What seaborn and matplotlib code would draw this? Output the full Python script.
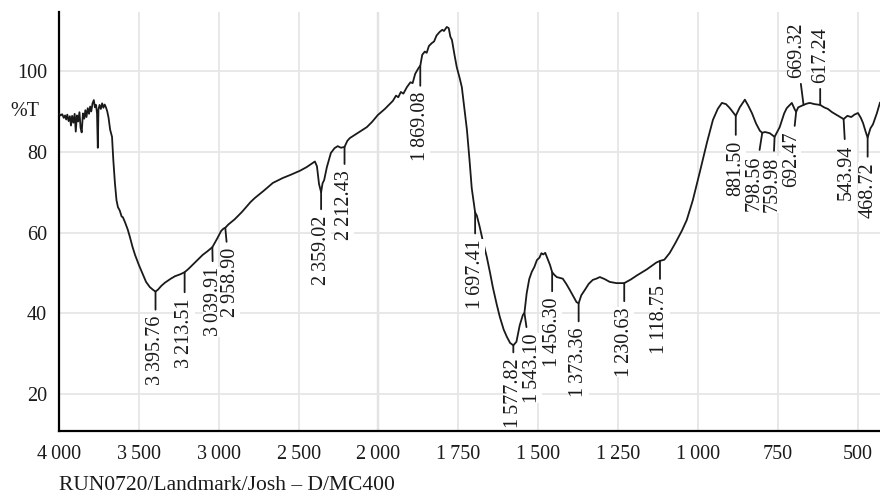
import matplotlib
matplotlib.use("Agg")
import matplotlib.pyplot as plt
import matplotlib.transforms as mtransforms
from matplotlib.ticker import FixedLocator, FuncFormatter
import numpy as np
import seaborn as sns

# IR spectrum (wavenumber cm-1, %T)
wavenumber = [4000, 3990, 3980, 3970, 3962, 3955, 3948, 3940, 3932, 3925, 3918, 3910, 3902, 3895,
              3888, 3880, 3872, 3865, 3858, 3850, 3842, 3835, 3828, 3820, 3812, 3805, 3798, 3790,
              3782, 3775, 3768, 3762, 3757, 3753, 3746, 3738, 3730, 3722, 3714, 3706, 3698, 3690,
              3680, 3668, 3660, 3650, 3640, 3631, 3620, 3608, 3600, 3587, 3570, 3556, 3540, 3524,
              3500, 3481, 3455, 3431, 3410, 3395.76, 3380, 3360, 3337, 3300, 3274, 3240, 3213.51,
              3190, 3149, 3100, 3070, 3039.91, 3010, 2985, 2970, 2958.90, 2940, 2900, 2855, 2800,
              2773, 2720, 2661, 2600, 2550, 2492, 2450, 2398, 2385, 2372, 2359.02, 2350, 2340, 2323,
              2298, 2275, 2255, 2235, 2212.43, 2195, 2179, 2140, 2100, 2073, 2040, 2004, 1980, 1955,
              1945, 1938, 1930, 1922, 1911, 1900, 1893, 1885, 1874, 1869.08, 1863, 1855, 1849, 1842,
              1833, 1826, 1818, 1808, 1800, 1795, 1786, 1780, 1775, 1770, 1762, 1755, 1745, 1739,
              1730, 1723, 1715, 1708, 1702, 1697.41, 1692, 1683, 1672, 1661, 1650, 1642, 1630, 1620,
              1608, 1598, 1588, 1577.82, 1568, 1558, 1548, 1543.10, 1536, 1528, 1520, 1512, 1504,
              1496, 1490, 1484, 1478, 1470, 1463, 1456.30, 1450, 1442, 1433, 1423, 1412, 1401, 1390,
              1380, 1373.36, 1365, 1354, 1342, 1329, 1318, 1307, 1292, 1276, 1255, 1230.63, 1210,
              1191, 1160, 1130, 1118.75, 1105, 1088, 1070, 1050, 1035, 1016, 994, 972, 953, 938, 925,
              912, 900, 881.50, 869, 853, 843, 831, 818, 806, 798.56, 790, 775, 759.98, 744, 730,
              722, 706, 697, 692.47, 686, 669.32, 660, 650, 635, 617.24, 605, 593, 580, 565, 550,
              543.94, 532, 520, 510, 499, 490, 483, 475, 468.72, 460, 452, 440, 430]
transmittance = [89.5, 89.0, 89.3, 88.4, 89.0, 88.0, 89.2, 87.6, 88.8, 86.5, 88.9, 87.2, 89.4, 85.0,
                 89.0, 87.5, 89.8, 86.0, 84.8, 89.5, 88.2, 90.3, 88.6, 90.8, 89.4, 91.2, 90.0, 92.0,
                 92.8, 91.0, 91.6, 89.5, 81.0, 90.5, 91.6, 90.6, 92.0, 90.9, 91.7, 91.0, 90.0, 88.5,
                 85.5, 83.7, 78.0, 72.3, 68.0, 66.3, 65.5, 64.0, 63.8, 62.6, 60.8, 58.9, 56.5, 54.5,
                 52.0, 50.2, 47.8, 46.5, 45.8, 45.4, 45.9, 46.8, 47.6, 48.6, 49.2, 49.7, 50.2,
                 51.0, 52.6, 54.5, 55.4, 56.4, 58.5, 60.4, 61.0, 61.2, 62.0, 63.3, 65.1, 67.6,
                 68.6, 70.3, 72.3, 73.5, 74.3, 75.3, 76.2, 77.6, 76.4, 72.0, 70.0, 72.2, 73.0, 76.2,
                 79.7, 80.9, 81.4, 81.0, 81.2, 82.7, 83.4, 84.4, 85.4, 86.1, 87.4, 89.1, 90.6, 92.6,
                 93.9, 93.5, 94.8, 94.4, 96.0, 97.2, 97.0, 99.3, 100.8, 101.3, 104.0, 104.8, 104.5, 106.2,
                 106.9, 107.3, 108.8, 109.7, 110.2, 109.9, 110.9, 110.6, 108.5, 107.7, 104.0, 101.0, 98.0, 96.0,
                 90.0, 85.4, 78.0, 71.0, 67.5, 65.0, 64.2, 61.4, 57.5, 54.0, 49.8, 46.5, 42.3, 39.1,
                 36.0, 34.2, 32.7, 32.1, 33.0, 37.0, 39.6, 40.1, 45.0, 48.5, 50.3, 51.5, 53.2,
                 53.8, 54.9, 54.6, 55.0, 53.4, 52.0, 50.2, 49.6, 49.0, 48.8, 48.6, 47.3, 45.8, 44.2,
                 42.8, 42.5, 44.5, 45.8, 47.3, 48.3, 48.6, 49.0, 48.5, 47.8, 47.5, 47.5, 48.4,
                 49.4, 50.9, 52.6, 53.0, 53.3, 55.0, 57.5, 60.5, 63.1, 68.0, 75.0, 82.2, 87.9, 90.6, 92.1,
                 91.8, 90.8, 88.9, 91.0, 92.9, 91.5, 89.6, 87.0, 85.2, 84.7, 84.9, 84.6, 83.7, 86.1, 89.5,
                 90.8, 92.1, 90.5, 89.9, 91.0, 91.6, 91.9, 92.1, 91.8, 91.6, 91.0, 90.6, 89.8, 89.1, 88.4,
                 88.1, 88.9, 88.6, 89.2, 89.6, 88.4, 87.1, 85.0, 83.5, 85.8, 86.8, 89.5, 92.2]

# labelled peaks
peaks = [3395.76, 3213.51, 3039.91, 2958.90, 2359.02, 2212.43, 1869.08, 1697.41, 1577.82,
         1543.10, 1456.30, 1373.36, 1230.63, 1118.75, 881.50, 798.56, 759.98, 692.47,
         669.32, 617.24, 543.94, 468.72]
# label offsets in pixels from the peak (dx, dy), dy > 0 means label below
label_off = [(0, 24), (0, 26), (1, 20), (5, 20), (0, 23), (0, 23), (0, 26), (0, 27), (0, 13),
             (8, 20), (0, 25), (0, 24), (0, 24), (0, 24), (0, 25), (-8, 23), (-2, 20), (-5, 20),
             (-7, -27), (0, -22), (3, 26), (0, 25)]

major_x = [4000, 3500, 3000, 2500, 2000, 1750, 1500, 1250, 1000, 750, 500]
major_y = [20, 40, 60, 80, 100]

sns.set_theme(style="white")
plt.rcParams["font.family"] = ["Liberation Serif", "DejaVu Serif"]

def thin(v, dec=0):
    return f"{v:,.{dec}f}".replace(",", "\u2009")

# spectrum is expanded 2x below 2000 cm-1
def fwd(w):
    w = np.asarray(w, dtype=float)
    return np.where(w < 2000, 2 * w - 2000, w)

def inv(u):
    u = np.asarray(u, dtype=float)
    return np.where(u < 2000, (u + 2000) / 2, u)

fig = plt.figure(figsize=(8.8, 4.95), dpi=100)
ax = fig.add_axes([59 / 880, 1 - 431 / 495, 1 - 59 / 880, (431 - 12) / 495])

sns.lineplot(x=wavenumber, y=transmittance, ax=ax, color="#1a1a1a", lw=1.3,
             sort=False, estimator=None, zorder=3)

ax.set_xscale("function", functions=(fwd, inv))
ax.set_xlim(4000, 430)
ax.set_ylim(10.9, 114.6)

ax.xaxis.set_major_locator(FixedLocator(major_x))
ax.xaxis.set_minor_locator(FixedLocator(list(range(3900, 2000, -100)) + list(range(1950, 430, -50))))
ax.xaxis.set_major_formatter(FuncFormatter(lambda v, p: thin(v)))
ax.yaxis.set_major_locator(FixedLocator(major_y))
ax.yaxis.set_minor_locator(FixedLocator(list(range(12, 114, 4))))

ax.grid(True, which="major", color="#e6e6e6", lw=1.3, zorder=0)
ax.axvline(2000, color="#c8c8c8", lw=1.6, zorder=0.5)

for s in ["top", "right"]:
    ax.spines[s].set_visible(False)
for s in ["left", "bottom"]:
    ax.spines[s].set_color("black")
    ax.spines[s].set_linewidth(1.6)

ax.tick_params(axis="both", which="major", direction="out", length=7, width=1.2,
               color="#333333", labelsize=14.5, labelcolor="#1a1a1a")
ax.tick_params(axis="x", which="major", pad=3)
ax.tick_params(axis="y", which="major", pad=1.5)
ax.tick_params(axis="both", which="minor", direction="out", length=4, width=1,
               color="#aaaaaa")
ax.set_xlabel("")
ax.set_ylabel("")

# peak labels
px2pt = 72 / 100
for w, (dx, dy) in zip(peaks, label_off):
    t = np.interp(w, wavenumber[::-1], transmittance[::-1])
    ax.annotate(thin(w, 2), xy=(w, t), xytext=(dx * px2pt, -dy * px2pt),
                textcoords="offset points", rotation=90, ha="center",
                va="top" if dy > 0 else "bottom", fontsize=14.5, color="#1a1a1a",
                bbox=dict(boxstyle="square,pad=0.02", fc="white", ec="none"),
                arrowprops=dict(arrowstyle="-", color="#1a1a1a", lw=1.3,
                                shrinkA=4, shrinkB=0),
                zorder=4)

trans = mtransforms.blended_transform_factory(fig.transFigure, ax.transData)
ax.text(10 / 880, 90, "%T", transform=trans, ha="left", va="center",
        fontsize=14.5, color="#1a1a1a")

fig.text(59 / 880, 1 - 485 / 495, "RUN0720/Landmark/Josh \u2013 D/MC400",
         ha="left", va="center", fontsize=15.5, color="#1a1a1a")

fig.savefig("out.png", dpi=100)
